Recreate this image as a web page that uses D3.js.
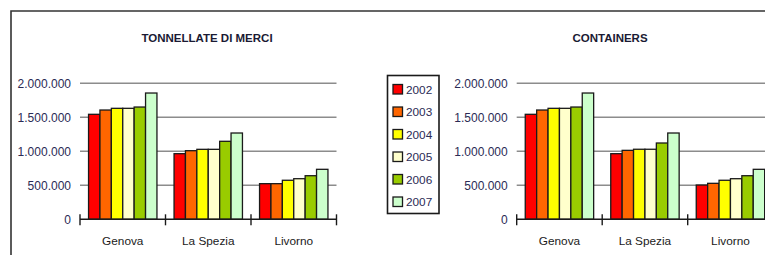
<!DOCTYPE html>
<html>
<head>
<meta charset="utf-8">
<script src="https://cdn.jsdelivr.net/npm/d3@7"></script>
<style>
body { margin: 0; background: #fff; }
svg { display: block; font-family: "Liberation Sans", Arial, sans-serif; }
</style>
</head>
<body>
<svg width="765" height="255"></svg>
<script>
var ports = ["Genova", "La Spezia", "Livorno"];
var years = ["2002", "2003", "2004", "2005", "2006", "2007"];
var colors = ["#ff0000", "#ff6600", "#ffff00", "#ffffcc", "#99cc00", "#ccffcc"];
var yTicks = [0, 500000, 1000000, 1500000, 2000000];

// one row per port, one value per year
var tonnellate = [
  [1544000, 1607000, 1632000, 1632000, 1651000, 1857000],
  [965000, 1009000, 1029000, 1029000, 1147000, 1269000],
  [524000, 524000, 574000, 597000, 641000, 735000]
];
var containers = [
  [1544000, 1607000, 1632000, 1632000, 1651000, 1857000],
  [965000, 1014000, 1030000, 1030000, 1122000, 1269000],
  [504000, 529000, 574000, 597000, 641000, 735000]
];

var svg = d3.select("svg");
var fmt = function(v) { return d3.format(",")(v).replace(/,/g, "."); };

// frame
svg.append("path")
  .attr("d", "M11,255V11H765")
  .attr("fill", "none")
  .attr("stroke", "#333")
  .attr("stroke-width", 1.6);

function drawChart(title, data, left, titleX) {
  var x0 = left, x1 = left + 256.5, yTop = 83.3, yBot = 219.3;
  var x = d3.scaleBand().domain(ports).range([x0, x1]).paddingInner(0.2).paddingOuter(0.1);
  var band = d3.scaleBand().domain(ports).range([x0, x1]);
  var xs = d3.scaleBand().domain(years).range([0, x.bandwidth()]);
  var y = d3.scaleLinear().domain([0, 2000000]).range([yBot, yTop]);
  var g = svg.append("g");

  g.append("text")
    .attr("x", titleX).attr("y", 42)
    .attr("text-anchor", "middle")
    .attr("font-size", "11.5px")
    .attr("font-weight", "bold")
    .attr("fill", "#1a1a33")
    .text(title);

  g.selectAll(".grid").data(yTicks.filter(function(d) { return d > 0; }))
    .enter().append("line")
    .attr("x1", x0).attr("x2", x1)
    .attr("y1", function(d) { return y(d); }).attr("y2", function(d) { return y(d); })
    .attr("stroke", "#8c8c8c").attr("stroke-width", 1.4);

  g.selectAll(".ylab").data(yTicks)
    .enter().append("text")
    .attr("x", x0 - 9)
    .attr("y", function(d) { return y(d); })
    .attr("dy", "0.36em")
    .attr("text-anchor", "end")
    .attr("font-size", "12px")
    .attr("fill", "#2b2b55")
    .text(fmt);

  var grp = g.selectAll(".grp").data(data).enter().append("g")
    .attr("transform", function(d, i) { return "translate(" + x(ports[i]) + ",0)"; });
  grp.selectAll("rect").data(function(d) { return d; })
    .enter().append("rect")
    .attr("x", function(d, i) { return xs(years[i]); })
    .attr("y", function(d) { return y(d); })
    .attr("width", xs.bandwidth())
    .attr("height", function(d) { return yBot - y(d); })
    .attr("fill", function(d, i) { return colors[i]; })
    .attr("stroke", "#1a1a1a")
    .attr("stroke-width", 1.3);

  // category axis
  var ax = g.append("g").attr("transform", "translate(0," + yBot + ")");
  ax.append("line").attr("x1", x0).attr("x2", x1).attr("stroke", "#1a1a1a").attr("stroke-width", 1.6);
  var edges = ports.map(function(p) { return band(p); }).concat([x1]);
  ax.selectAll(".tk").data(edges).enter().append("line")
    .attr("x1", function(d) { return d; }).attr("x2", function(d) { return d; })
    .attr("y1", -5).attr("y2", 6)
    .attr("stroke", "#1a1a1a").attr("stroke-width", 1.4);
  ax.selectAll(".xl").data(ports).enter().append("text")
    .attr("x", function(d) { return band(d) + band.bandwidth() / 2; })
    .attr("y", 26)
    .attr("text-anchor", "middle")
    .attr("font-size", "11.8px")
    .attr("fill", "#1a1a1a")
    .text(function(d) { return d; });
}

drawChart("TONNELLATE DI MERCI", tonnellate, 80, 207);
drawChart("CONTAINERS", containers, 516.7, 610);

// legend
var lg = svg.append("g");
lg.append("rect")
  .attr("x", 387.5).attr("y", 75.5).attr("width", 51.5).attr("height", 138)
  .attr("fill", "#fff").attr("stroke", "#1a1a1a").attr("stroke-width", 1.6);
var row = lg.selectAll(".row").data(years).enter().append("g")
  .attr("transform", function(d, i) { return "translate(393," + (89.5 + i * 22.5) + ")"; });
row.append("rect")
  .attr("x", 0).attr("y", -5).attr("width", 9.5).attr("height", 9.5)
  .attr("fill", function(d, i) { return colors[i]; })
  .attr("stroke", "#1a1a1a").attr("stroke-width", 1.3);
row.append("text")
  .attr("x", 13).attr("y", 0).attr("dy", "0.36em")
  .attr("font-size", "11.8px").attr("fill", "#2b2b55")
  .text(function(d) { return d; });
</script>
</body>
</html>
